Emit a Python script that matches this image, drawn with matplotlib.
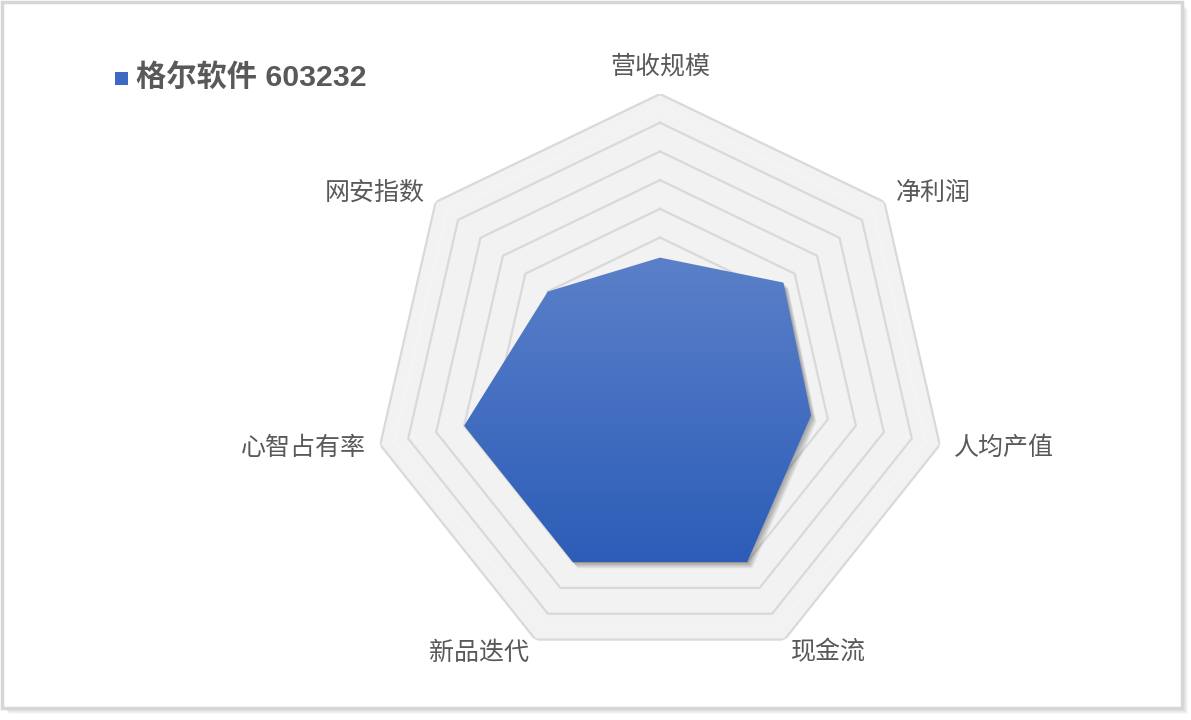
import numpy as np
import matplotlib
matplotlib.use('Agg')
import matplotlib.pyplot as plt
from matplotlib.patches import Rectangle
from matplotlib.transforms import ScaledTranslation
from matplotlib.colors import LinearSegmentedColormap

# chart data
categories = ['营收规模', '净利润', '人均产值', '现金流', '新品迭代', '心智占有率', '网安指数']
values = [4.3, 5.5, 5.4, 7.0, 7.0, 7.0, 5.0]
rings = [1, 2, 3, 4, 5, 6, 7, 8, 9, 10]
series_name = '格尔软件 603232'

plt.rcParams['font.family'] = ['Noto Sans CJK SC', 'DejaVu Sans']

W, H = 1191, 720
fig = plt.figure(figsize=(W / 100, H / 100), dpi=100)
fig.patch.set_facecolor('white')

# card with shadow (drawn below the axes)
for i in range(6, 0, -1):
    fig.add_artist(Rectangle((3 / W + i / W, 12 / H - i / H), 1179 / W, 705 / H,
                             transform=fig.transFigure, facecolor='#9a9a9a',
                             alpha=0.07, lw=0, zorder=-2))
fig.add_artist(Rectangle((1.5 / W, 12 / H), 1180 / W, 706.5 / H,
                         transform=fig.transFigure, facecolor='white',
                         edgecolor='#d6d6d6', lw=2.5, zorder=-1))

n = len(categories)
angles = np.arange(n) * 2 * np.pi / n
ang_c = np.append(angles, angles[0])
vals_c = np.append(values, values[0])

rect = [373 / W, 52 / H, 574 / W, 574 / H]
ax = fig.add_axes(rect, projection='polar')
ax.set_zorder(2)
ax.set_theta_offset(np.pi / 2)
ax.set_theta_direction(-1)
ax.set_ylim(0, 10)
ax.set_xticks([])
ax.set_yticks([])
ax.grid(False)
ax.spines['polar'].set_visible(False)
ax.patch.set_alpha(0)

# grid bands
ax.fill(ang_c, [rings[-1]] * (n + 1), color='#f2f2f2', lw=0, zorder=1)
for r in rings[1:]:
    ax.fill(ang_c, [r - 0.45] * (n + 1), color='#f4f4f4', lw=0, zorder=1)
    ax.fill(ang_c, [r - 0.55] * (n + 1), color='#f2f2f2', lw=0, zorder=1)
for r in rings:
    ax.plot(ang_c, [r] * (n + 1), color='#d9d9d9', lw=1.6, zorder=2)

# shadow of the series polygon
for k in range(1, 8):
    tr = ax.transData + ScaledTranslation(k * 0.75 / 100, -k * 0.9 / 100, fig.dpi_scale_trans)
    ax.fill(ang_c, vals_c, color='#303030', alpha=0.065, lw=0, transform=tr, zorder=3)

poly = ax.fill(ang_c, vals_c, facecolor='none', lw=0, zorder=4)[0]

# gradient fill clipped to the polygon
gax = fig.add_axes(rect)
gax.set_zorder(3)
gax.set_xlim(0, 1)
gax.set_ylim(0, 1)
gax.axis('off')
gax.patch.set_alpha(0)
pts = poly.get_transform().transform(poly.get_path().vertices)
pts = gax.transAxes.inverted().transform(pts)
cmap = LinearSegmentedColormap.from_list('blue', ['#2c5db8', '#5b80c9'])
grad = np.linspace(0, 1, 256).reshape(-1, 1)
im = gax.imshow(grad, cmap=cmap, origin='lower', aspect='auto',
                extent=[pts[:, 0].min(), pts[:, 0].max(), pts[:, 1].min(), pts[:, 1].max()],
                zorder=4)
im.set_clip_path(poly)

# category labels
for a, cat in zip(angles, categories):
    s = np.sin(a)
    if abs(s) < 1e-6:
        ax.text(a, 10.95, cat, ha='center', va='center', fontsize=18, color='#595959')
    else:
        ax.text(a, 10.5, cat, ha='left' if s > 0 else 'right', va='center',
                fontsize=18, color='#595959')

# legend / title
fig.add_artist(Rectangle((115 / W, 1 - 85 / H), 13 / W, 13 / H, transform=fig.transFigure,
                         facecolor='#3e69c2', lw=0, zorder=5))
fig.text(136 / W, 1 - 78 / H, series_name, fontsize=21.8, fontweight='bold', color='#595959',
         va='center', ha='left', family=['Liberation Sans', 'Noto Sans CJK SC'])

fig.savefig('out.png', dpi=100)
